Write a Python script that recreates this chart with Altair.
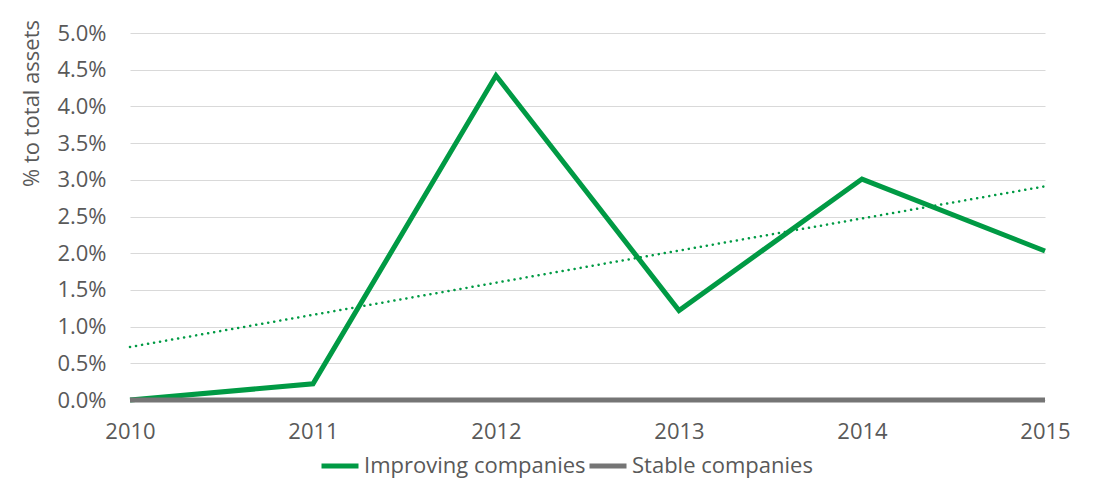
import altair as alt
import pandas as pd

years = [2010, 2011, 2012, 2013, 2014, 2015]
improving = [0.0, 0.0022, 0.0442, 0.0122, 0.0301, 0.0203]
stable = [0.0, 0.0, 0.0, 0.0, 0.0, 0.0]
series_names = ["Improving companies", "Stable companies"]
colors = ["#009A44", "#757575"]
y_ticks = [0.0, 0.005, 0.01, 0.015, 0.02, 0.025, 0.03, 0.035, 0.04, 0.045, 0.05]

rows = []
for y, v in zip(years, improving):
    rows.append({"year": y, "value": v, "series": series_names[0]})
for y, v in zip(years, stable):
    rows.append({"year": y, "value": v, "series": series_names[1]})
df = pd.DataFrame(rows)
imp_df = pd.DataFrame({"year": years, "value": improving})

FONT = "Open Sans"
TXT = "#595959"
FS = 22

x_axis = alt.Axis(values=years, format="d", title=None, grid=False,
                  ticks=False, domain=False, labelFontSize=FS,
                  labelColor=TXT, labelFont=FONT, labelPadding=21,
                  labelFlush=False)
y_axis = alt.Axis(values=y_ticks, format=".1%",
                  title="% to total assets", titleFontSize=FS,
                  titleFont=FONT, titleColor=TXT, titleFontWeight="normal",
                  titleAngle=270, titleAlign="center", titleBaseline="alphabetic",
                  titleX=-92, titleY=70,
                  labelFontSize=FS, labelColor=TXT,
                  labelFont=FONT, labelPadding=24, ticks=False,
                  domain=False, gridColor="#D9D9D9", gridWidth=1)
x_scale = alt.Scale(domain=[2010, 2015], nice=False, zero=False)
y_scale = alt.Scale(domain=[0, 0.05], nice=False)

lines = alt.Chart(df).mark_line(strokeWidth=5, strokeJoin="miter").encode(
    x=alt.X("year:Q", scale=x_scale, axis=x_axis),
    y=alt.Y("value:Q", scale=y_scale, axis=y_axis),
    color=alt.Color("series:N",
                    scale=alt.Scale(domain=series_names, range=colors),
                    legend=alt.Legend(orient="none", legendX=189, legendY=412,
                                      direction="horizontal",
                                      title=None, symbolType="stroke",
                                      symbolSize=1369, symbolStrokeWidth=5,
                                      labelFontSize=FS, labelFont=FONT,
                                      labelColor=TXT, labelOffset=3,
                                      labelLimit=0, columnPadding=-7)),
    order=alt.Order("year:Q"),
)

trend = alt.Chart(imp_df).transform_regression("year", "value").mark_line(
    strokeWidth=2.5, strokeDash=[0.1, 6], strokeCap="round", color="#009A44"
).encode(x=alt.X("year:Q", scale=x_scale, axis=x_axis),
         y=alt.Y("value:Q", scale=y_scale, axis=y_axis))

chart = alt.layer(lines, trend).properties(
    width=915, height=367,
    autosize=alt.AutoSizeParams(type="none"),
    padding={"left": 122, "top": 25, "right": 44, "bottom": 85},
).configure_view(stroke=None)

chart.save("out.html", embed_options={"renderer": "svg", "actions": False})
